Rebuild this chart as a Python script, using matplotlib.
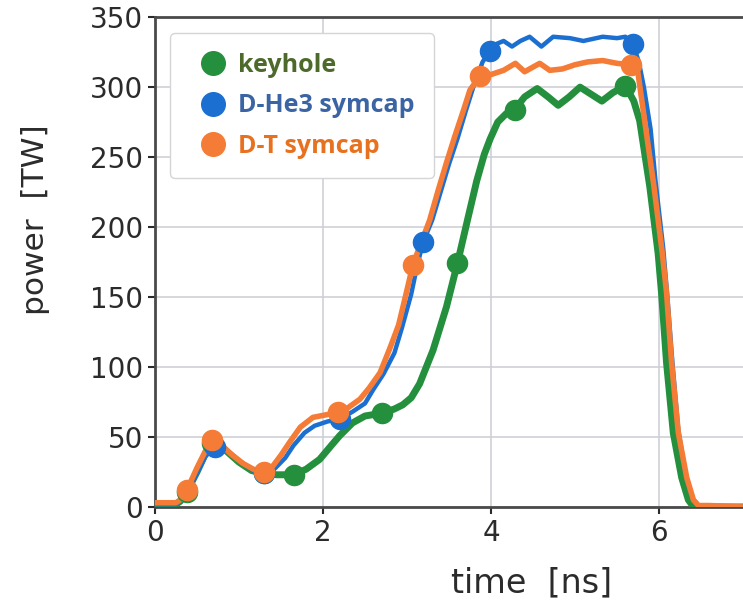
import numpy as np
import matplotlib
matplotlib.use("Agg")
import matplotlib.pyplot as plt
from matplotlib.lines import Line2D

# laser pulse shapes, power [TW] vs time [ns]
t_keyhole = [0.0, 0.25, 0.3, 0.38, 0.5, 0.6, 0.68, 0.75, 0.85, 1.0, 1.15, 1.3, 1.45, 1.65,
             1.8, 1.96, 2.1, 2.2, 2.35, 2.5, 2.7, 2.85, 2.95, 3.05, 3.15, 3.31, 3.47, 3.6,
             3.72, 3.83, 3.92, 3.99, 4.08, 4.18, 4.28, 4.4, 4.55, 4.68, 4.8, 4.93, 5.06,
             5.19, 5.32, 5.45, 5.6, 5.7, 5.77, 5.89, 5.99, 6.03, 6.09, 6.17, 6.27, 6.35,
             6.4, 6.5, 7.0]
p_keyhole = [2, 2, 4, 11, 25, 38, 46, 45, 40, 32, 26, 24, 23, 23,
             27, 34, 44, 51, 60, 65, 67, 70, 73, 78, 88, 112, 143, 174,
             205, 233, 252, 263, 275, 281, 284, 293, 299, 293, 287, 293, 300,
             295, 290, 296, 301, 290, 276, 229, 181, 153, 103, 53, 21, 5,
             1, 0, 0]

t_dhe3 = [0.0, 0.25, 0.32, 0.4, 0.5, 0.6, 0.71, 0.8, 0.9, 1.05, 1.17, 1.3, 1.42, 1.55,
          1.65, 1.78, 1.9, 2.05, 2.2, 2.35, 2.5, 2.6, 2.72, 2.85, 2.94, 3.05, 3.12, 3.19,
          3.3, 3.4, 3.5, 3.6, 3.7, 3.8, 3.9, 3.99, 4.07, 4.15, 4.25, 4.35, 4.46, 4.6,
          4.74, 4.94, 5.1, 5.33, 5.5, 5.6, 5.69, 5.76, 5.82, 5.9, 5.96, 6.05, 6.1,
          6.16, 6.23, 6.32, 6.4, 6.47, 7.0]
p_dhe3 = [2, 2, 5, 12, 24, 36, 43, 42, 38, 31, 26, 24, 27, 35,
          44, 53, 58, 61, 63, 68, 74, 84, 95, 110, 128, 152, 172, 189,
          205, 225, 245, 263, 283, 302, 318, 326, 331, 333, 329, 333, 336, 329,
          336, 335, 333, 336, 335, 336, 331, 318, 300, 270, 232, 185, 150,
          103, 55, 22, 6, 1, 0]

t_dt = [0.0, 0.25, 0.3, 0.38, 0.5, 0.6, 0.68, 0.78, 0.9, 1.05, 1.17, 1.3, 1.4, 1.5,
        1.6, 1.73, 1.88, 2.05, 2.18, 2.3, 2.44, 2.55, 2.68, 2.8, 2.9, 3.0, 3.07, 3.17,
        3.27, 3.37, 3.47, 3.57, 3.67, 3.75, 3.87, 4.0, 4.15, 4.29, 4.4, 4.58, 4.7,
        4.85, 5.0, 5.15, 5.33, 5.5, 5.67, 5.75, 5.82, 5.94, 6.04, 6.09, 6.15, 6.23,
        6.33, 6.41, 6.47, 6.6, 7.0]
p_dt = [3, 3, 5, 12, 28, 40, 48, 45, 38, 31, 27, 25, 29, 37,
        46, 57, 64, 66, 68, 71, 77, 85, 96, 114, 130, 155, 173, 189,
        205, 226, 246, 265, 283, 298, 308, 309, 312, 317, 311, 317, 312,
        313, 316, 318, 319, 317, 316, 310, 280, 229, 181, 153, 103, 53,
        21, 5, 1, 1, 0]

# marker positions on each pulse
mk_keyhole_t = [0.38, 0.68, 1.3, 1.65, 2.7, 3.6, 4.28, 5.6]
mk_keyhole_p = [11, 46, 24, 23, 67, 174, 284, 301]
mk_dhe3_t = [0.71, 1.3, 2.2, 3.19, 3.99, 5.69]
mk_dhe3_p = [43, 24, 63, 189, 326, 331]
mk_dt_t = [0.38, 0.68, 1.3, 2.18, 3.07, 3.87, 5.67]
mk_dt_p = [12, 48, 25, 68, 173, 308, 316]

labels = ["keyhole", "D-He3 symcap", "D-T symcap"]
green = "#24903e"
blue = "#1a6fd0"
orange = "#f47c36"
label_colors = ["#4d6a2b", "#3a64a3", "#e8711f"]
dark = "#2b2b2b"

fig = plt.figure(figsize=(7.43, 6.13), dpi=100)
ax = fig.add_axes([0.2086, 0.173, 0.7914, 0.799])

ax.plot(t_keyhole, p_keyhole, color=green, lw=5, solid_joinstyle="round", zorder=3)
ax.plot(t_dhe3, p_dhe3, color=blue, lw=3.2, solid_joinstyle="round", zorder=4)
ax.plot(t_dt, p_dt, color=orange, lw=4, solid_joinstyle="round", zorder=5)

ax.plot(mk_keyhole_t, mk_keyhole_p, "o", color=green, ms=14.5, zorder=6)
ax.plot(mk_dhe3_t, mk_dhe3_p, "o", color=blue, ms=14.5, zorder=7)
ax.plot(mk_dt_t, mk_dt_p, "o", color=orange, ms=14.5, zorder=8)

ax.set_xlim(0, 7)
ax.set_ylim(0, 350)
ax.set_xticks([0, 2, 4, 6])
ax.set_yticks(np.arange(0, 351, 50))
ax.grid(True, color="#cfcfd8", lw=1.2)
ax.set_axisbelow(True)

for side in ["left", "bottom", "top"]:
    ax.spines[side].set_color("#4a4a4a")
    ax.spines[side].set_linewidth(2)
ax.spines["right"].set_visible(False)
ax.tick_params(labelsize=20, colors=dark, length=5, width=1.5, direction="out")

ax.set_ylabel("power  [TW]", fontsize=22.5, color=dark)
ax.yaxis.set_label_coords(-0.179, 0.586)
ax.set_xlabel("time  [ns]", fontsize=24, color=dark)
ax.xaxis.set_label_coords(0.64, -0.122)

handles = [Line2D([], [], marker="o", ls="none", color=c, ms=17) for c in [green, blue, orange]]
leg = ax.legend(handles, labels, loc="upper left", bbox_to_anchor=(0.0255, 0.967),
                labelcolor=label_colors, prop={"family": "Open Sans", "weight": "bold", "size": 18},
                frameon=True, fancybox=True, edgecolor="#d5d5d5", framealpha=1,
                handletextpad=0.05, borderpad=0.78, labelspacing=0.62, handlelength=1.9,
                borderaxespad=0)
leg.set_zorder(10)

fig.savefig("out.png", dpi=100)
